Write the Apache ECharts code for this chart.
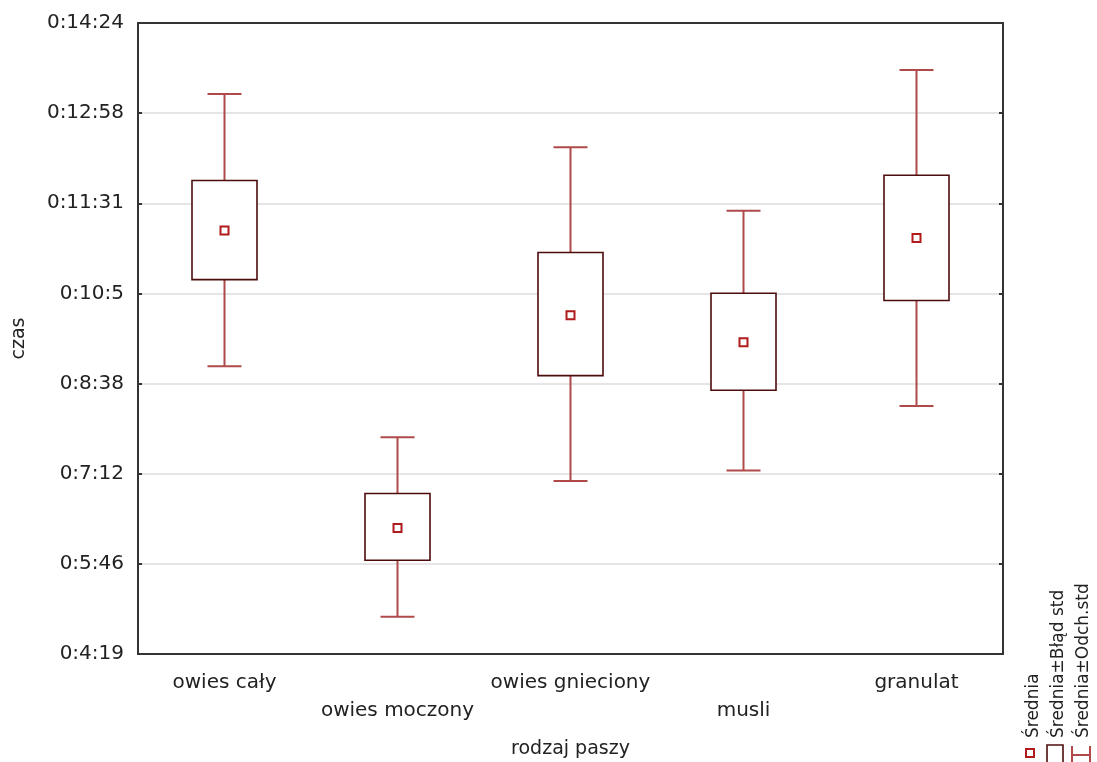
<!DOCTYPE html>
<html>
<head>
<meta charset="utf-8">
<script src="https://cdn.jsdelivr.net/npm/echarts@6/dist/echarts.min.js"></script>
<style>html,body{margin:0;padding:0;background:#fff;overflow:hidden}#c{width:1097px;height:762px}</style>
</head>
<body>
<div id="c"></div>
<script>
// values in seconds
var categories = ['owies cały', 'owies moczony', 'owies gnieciony', 'musli', 'granulat'];
var sdLow   = [535, 295, 425, 435, 497];
var seLow   = [618, 349, 526, 512, 598];
var means   = [665, 380, 584, 558, 658];
var seHigh  = [713, 413, 644, 605, 718];
var sdHigh  = [796, 467, 745, 684, 819];
var yTickLabels = ['0:4:19', '0:5:46', '0:7:12', '0:8:38', '0:10:5', '0:11:31', '0:12:58', '0:14:24'];
var yMin = 259.2, yStep = 86.4, yMax = 864;

var FONT = 'DejaVu Sans';
var data = categories.map(function (c, i) { return [i, sdLow[i], seLow[i], means[i], seHigh[i], sdHigh[i]]; });

function renderItem(params, api) {
  var x = api.coord([api.value(0), 0])[0];
  var pLo = api.coord([api.value(0), api.value(1)])[1];
  var bLo = api.coord([api.value(0), api.value(2)])[1];
  var m = api.coord([api.value(0), api.value(3)])[1];
  var bHi = api.coord([api.value(0), api.value(4)])[1];
  var pHi = api.coord([api.value(0), api.value(5)])[1];
  var capW = 17, boxW = 32.5, ms = 4;
  var wStyle = { stroke: '#b04a4a', lineWidth: 2 };
  return {
    type: 'group',
    children: [
      { type: 'line', shape: { x1: x, y1: pLo, x2: x, y2: pHi }, style: wStyle },
      { type: 'line', shape: { x1: x - capW, y1: pHi, x2: x + capW, y2: pHi }, style: wStyle },
      { type: 'line', shape: { x1: x - capW, y1: pLo, x2: x + capW, y2: pLo }, style: wStyle },
      { type: 'rect', shape: { x: x - boxW, y: bHi, width: 2 * boxW, height: bLo - bHi },
        style: { fill: '#fff', stroke: '#4d0c0c', lineWidth: 1.6 } },
      { type: 'rect', shape: { x: x - ms, y: m - ms, width: 2 * ms, height: 2 * ms },
        style: { fill: '#fff', stroke: '#b01c1c', lineWidth: 2 } }
    ]
  };
}

var axisLineStyle = { color: '#333', width: 2 };
var chart = echarts.init(document.getElementById('c'), null, { renderer: 'canvas', width: 1097, height: 762 });
chart.setOption({
  animation: false,
  textStyle: { fontFamily: FONT },
  grid: { left: 138, top: 23, width: 865, height: 631, containLabel: false, outerBoundsMode: 'none' },
  xAxis: [{
    type: 'category', data: categories, boundaryGap: true, position: 'bottom',
    name: 'rodzaj paszy', nameLocation: 'middle', nameGap: 86,
    nameTextStyle: { fontFamily: FONT, fontSize: 19, color: '#222' },
    axisLine: { lineStyle: axisLineStyle },
    axisTick: { inside: true, alignWithLabel: true, length: 4, lineStyle: { color: '#333', width: 2 } },
    axisLabel: {
      fontFamily: FONT, fontSize: 20, color: '#222', margin: 15, lineHeight: 28, interval: 0,
      formatter: function (v, i) { return i % 2 ? '\n' + v : v; }
    },
    splitLine: { show: false }
  }, {
    type: 'category', data: categories, boundaryGap: true, position: 'top',
    axisLine: { lineStyle: axisLineStyle },
    axisTick: { inside: true, alignWithLabel: true, length: 4, lineStyle: { color: '#333', width: 2 } },
    axisLabel: { show: false }, splitLine: { show: false }
  }],
  yAxis: [{
    type: 'value', min: yMin, max: yMax, interval: yStep,
    name: 'czas', nameLocation: 'middle', nameGap: 109, nameRotate: 90,
    nameTextStyle: { fontFamily: FONT, fontSize: 19, color: '#222' },
    axisLine: { show: true, lineStyle: axisLineStyle },
    axisTick: { show: true, inside: true, length: 4, lineStyle: { color: '#333', width: 2 } },
    axisLabel: {
      fontFamily: FONT, fontSize: 20, color: '#222', margin: 14,
      formatter: function (v) { return yTickLabels[Math.round((v - yMin) / yStep)]; }
    },
    splitLine: { show: true, lineStyle: { color: '#dddddd', width: 1.5 } }
  }, {
    type: 'value', min: yMin, max: yMax, interval: yStep, position: 'right',
    axisLine: { show: true, lineStyle: axisLineStyle },
    axisTick: { show: true, inside: true, length: 4, lineStyle: { color: '#333', width: 2 } },
    axisLabel: { show: false }, splitLine: { show: false }
  }],
  series: [{
    type: 'custom', renderItem: renderItem, data: data, xAxisIndex: 0, yAxisIndex: 0,
    encode: { x: 0, y: [1, 2, 3, 4, 5] }, z: 5
  }],
  graphic: [
    { type: 'text', x: 1034, y: 738, rotation: Math.PI / 2,
      style: { text: 'Średnia', font: '17px "' + FONT + '"', fill: '#222', textAlign: 'left', textVerticalAlign: 'middle' } },
    { type: 'text', x: 1059, y: 738, rotation: Math.PI / 2,
      style: { text: 'Średnia±Błąd std', font: '17px "' + FONT + '"', fill: '#222', textAlign: 'left', textVerticalAlign: 'middle' } },
    { type: 'text', x: 1084, y: 738, rotation: Math.PI / 2,
      style: { text: 'Średnia±Odch.std', font: '17px "' + FONT + '"', fill: '#222', textAlign: 'left', textVerticalAlign: 'middle' } },
    { type: 'rect', shape: { x: 1026, y: 749, width: 8, height: 8 }, style: { fill: '#fff', stroke: '#b01c1c', lineWidth: 2 } },
    { type: 'rect', shape: { x: 1047, y: 745, width: 16, height: 20 }, style: { fill: '#fff', stroke: '#4d0c0c', lineWidth: 1.6 } },
    { type: 'line', shape: { x1: 1072, y1: 755, x2: 1090, y2: 755 }, style: { stroke: '#b04a4a', lineWidth: 2 } },
    { type: 'line', shape: { x1: 1072, y1: 746, x2: 1072, y2: 764 }, style: { stroke: '#b04a4a', lineWidth: 2 } },
    { type: 'line', shape: { x1: 1090, y1: 746, x2: 1090, y2: 764 }, style: { stroke: '#b04a4a', lineWidth: 2 } }
  ]
});
</script>
</body>
</html>
